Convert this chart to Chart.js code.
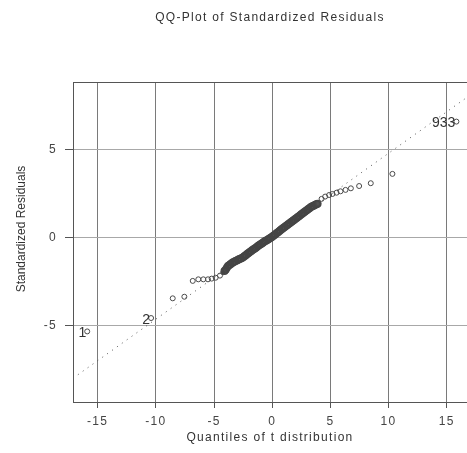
<!DOCTYPE html>
<html>
<head>
<meta charset="utf-8">
<script src="https://cdn.jsdelivr.net/npm/chart.js@4.4.1/dist/chart.umd.min.js"></script>
<style>
  html, body { margin: 0; padding: 0; background: #fff; }
  canvas { display: block; }
</style>
</head>
<body>
<canvas id="qqChart" width="467" height="453"></canvas>
<script>
// QQ plot of standardized residuals vs t quantiles
var tickX = [-15, -10, -5, 0, 5, 10, 15];
var tickY = [-5, 0, 5];

// tail points (left)
var lowX = [-15.9, -10.41, -8.55, -7.55, -6.83, -6.35, -5.92, -5.52, -5.2, -4.86, -4.49, -4.2];
var lowY = [-5.31, -4.55, -3.43, -3.34, -2.44, -2.35, -2.35, -2.35, -2.31, -2.26, -2.14, -1.95];

// dense middle band
var midX = [-4.1, -4.0, -3.9, -3.8, -3.7, -3.6, -3.5, -3.4, -3.3, -3.2, -3.1, -3.0, -2.9, -2.8, -2.7, -2.6,
  -2.5, -2.4, -2.3, -2.2, -2.1, -2.0, -1.9, -1.8, -1.7, -1.6, -1.5, -1.4, -1.3, -1.2, -1.1, -1.0,
  -0.9, -0.8, -0.7, -0.6, -0.5, -0.4, -0.3, -0.2, -0.1, 0.0, 0.1, 0.2, 0.3, 0.4, 0.5, 0.6,
  0.7, 0.8, 0.9, 1.0, 1.1, 1.2, 1.3, 1.4, 1.5, 1.6, 1.7, 1.8, 1.9, 2.0, 2.1, 2.2,
  2.3, 2.4, 2.5, 2.6, 2.7, 2.8, 2.9, 3.0, 3.1, 3.2, 3.3, 3.4, 3.5, 3.6, 3.7, 3.8, 3.9];
var midY = [-1.88, -1.80, -1.70, -1.60, -1.55, -1.50, -1.45, -1.40, -1.36, -1.32, -1.29, -1.26, -1.23, -1.20, -1.17, -1.14,
  -1.09, -1.04, -0.99, -0.94, -0.89, -0.84, -0.79, -0.74, -0.69, -0.64, -0.60, -0.55, -0.50, -0.45, -0.40, -0.36,
  -0.31, -0.27, -0.22, -0.18, -0.14, -0.10, -0.06, -0.02, 0.03, 0.07, 0.12, 0.17, 0.22, 0.28, 0.33, 0.38,
  0.44, 0.49, 0.54, 0.59, 0.64, 0.69, 0.74, 0.79, 0.84, 0.89, 0.94, 0.99, 1.04, 1.09, 1.14, 1.19,
  1.24, 1.29, 1.34, 1.39, 1.44, 1.49, 1.54, 1.59, 1.64, 1.69, 1.74, 1.78, 1.82, 1.85, 1.88, 1.91, 1.94];

// tail points (right)
var highX = [3.95, 4.24, 4.55, 4.89, 5.18, 5.53, 5.87, 6.3, 6.76, 7.47, 8.47, 10.33, 15.83];
var highY = [1.97, 2.22, 2.35, 2.44, 2.5, 2.57, 2.65, 2.73, 2.82, 2.95, 3.11, 3.64, 6.61];

// labelled observations
var obsLabels = ["1", "2", "933"];
var obsX = [-15.9, -10.41, 15.83];
var obsY = [-5.31, -4.55, 6.61];

// reference line end points
var refX = [-17.12, 16.74];
var refY = [-7.97, 7.99];

var yTitle = 'Standardized Residuals';

function toPts(xs, ys) {
  return xs.map(function (x, i) { return { x: x, y: ys[i] }; });
}

var fontFam = "'Liberation Sans', Arial, sans-serif";

var extras = {
  id: 'extras',
  beforeDraw: function (chart) {
    // original renderer spaces its letters out a bit
    chart.ctx.letterSpacing = '1.3px';
  },
  beforeDatasetsDraw: function (chart) {
    var a = chart.chartArea, c = chart.ctx;
    c.save();
    c.strokeStyle = '#555';
    c.lineWidth = 1;
    c.beginPath();
    c.moveTo(a.left, a.top + 0.5);
    c.lineTo(a.right, a.top + 0.5);
    c.stroke();
    c.restore();
  },
  afterDatasetsDraw: function (chart) {
    var c = chart.ctx, sx = chart.scales.x, sy = chart.scales.y;
    c.save();
    c.letterSpacing = '0px';
    c.font = '14px ' + fontFam;
    c.fillStyle = '#333';
    c.textAlign = 'right';
    c.textBaseline = 'middle';
    obsLabels.forEach(function (t, i) {
      c.fillText(t, sx.getPixelForValue(obsX[i]) - 1, sy.getPixelForValue(obsY[i]) + 2);
    });
    // y axis title
    c.font = '12px ' + fontFam;
    c.textAlign = 'center';
    c.translate(22, 229);
    c.rotate(-Math.PI / 2);
    c.fillText(yTitle, 0, 0);
    c.restore();
  }
};

var ctx = document.getElementById('qqChart');
var qqChart = new Chart(ctx, {
  type: 'scatter',
  data: {
    datasets: [{
      type: 'line',
      data: toPts(refX, refY),
      borderColor: '#555',
      borderWidth: 1,
      borderDash: [1, 5],
      pointRadius: 0,
      fill: false
    }, {
      data: toPts(lowX, lowY).concat(toPts(highX, highY)),
      pointStyle: 'circle',
      pointRadius: 2.5,
      borderWidth: 1,
      borderColor: '#4a4a4a',
      backgroundColor: 'rgba(0,0,0,0)'
    }, {
      data: toPts(midX, midY),
      pointStyle: 'circle',
      pointRadius: 3,
      borderWidth: 2,
      borderColor: '#454545',
      backgroundColor: '#505050'
    }]
  },
  options: {
    responsive: false,
    animation: false,
    layout: { padding: 0, autoPadding: false },
    plugins: {
      legend: { display: false },
      tooltip: { enabled: false },
      title: {
        display: true,
        text: 'QQ-Plot of Standardized Residuals',
        fullSize: false,
        color: '#333',
        font: { family: fontFam, size: 12, weight: 'normal' },
        padding: { top: 10, bottom: 57.6 }
      }
    },
    scales: {
      x: {
        type: 'linear',
        min: -17.12,
        max: 16.74,
        afterFit: function (s) { s.height = 51; s.paddingLeft = 0; s.paddingRight = 0; },
        afterBuildTicks: function (s) { s.ticks = tickX.map(function (v) { return { value: v }; }); },
        ticks: { color: '#444', font: { family: fontFam, size: 12 }, padding: 6 },
        grid: { color: '#7a7a7a', tickColor: '#555', tickLength: 6 },
        border: { color: '#555' },
        title: {
          display: true,
          text: 'Quantiles of t distribution',
          color: '#333',
          font: { family: fontFam, size: 12 },
          padding: { bottom: 8 }
        }
      },
      y: {
        type: 'linear',
        min: -9.32,
        max: 8.86,
        afterFit: function (s) { s.width = 73; s.paddingTop = 0; s.paddingBottom = 0; },
        afterBuildTicks: function (s) { s.ticks = tickY.map(function (v) { return { value: v }; }); },
        ticks: { color: '#444', font: { family: fontFam, size: 12 }, padding: 8 },
        grid: { color: '#a8a8a8', tickColor: '#555', tickLength: 8 },
        border: { color: '#555' },
        title: { display: false }
      }
    }
  },
  plugins: [extras]
});
</script>
</body>
</html>
